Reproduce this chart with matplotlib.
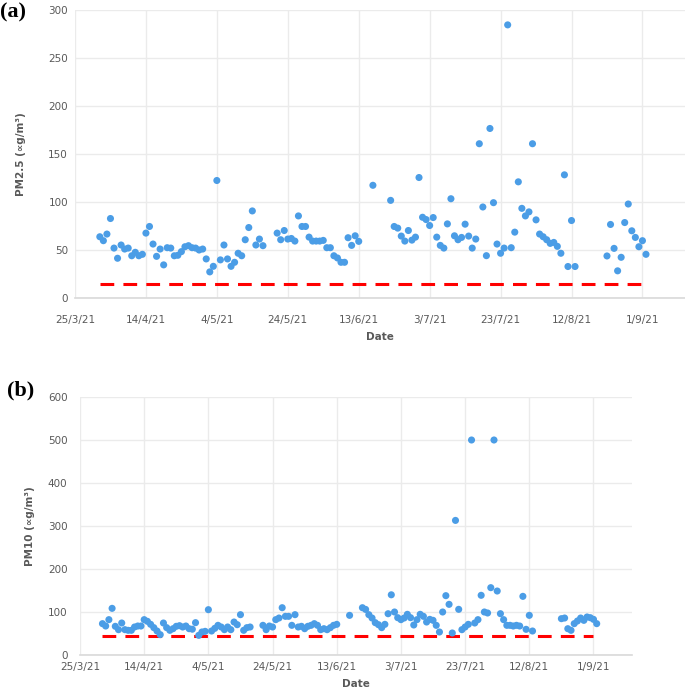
#!/usr/bin/env python3
# -*- coding: utf-8 -*-

import numpy as np
import pandas as pd
import matplotlib
matplotlib.use("Agg")
import matplotlib.pyplot as plt
from matplotlib.ticker import FixedLocator, FuncFormatter, MultipleLocator


# ----------------------------
# Datos (días contados desde 25/3/21)
# ----------------------------

START_DATE = pd.Timestamp("2021-03-25")

pm25_days = [7, 8, 9, 10, 11, 12, 13, 14, 15, 16, 17, 18, 19, 20, 21, 22, 23, 24,
             25, 26, 27, 28, 29, 30, 31, 32, 33, 34, 35, 36, 37, 38, 39, 40, 41,
             42, 43, 44, 45, 46, 47, 48, 49, 50, 51, 52, 53,
             57, 58, 59, 60, 61, 62, 63, 64, 65, 66, 67, 68, 69, 70, 71, 72, 73,
             74, 75, 76, 77, 78, 79, 80,
             84,
             89, 90, 91, 92, 93, 94, 95, 96, 97, 98, 99, 100, 101, 102, 103, 104,
             105, 106, 107, 108, 109, 110, 111, 112, 113, 114, 115, 116, 117, 118,
             119, 120, 121, 122, 123, 124, 125, 126, 127, 128, 129, 130, 131, 132,
             133, 134, 135, 136, 137, 138, 139, 140, 141,
             150, 151, 152, 153, 154, 155, 156, 157, 158, 159, 160, 161]
pm25_values = [63.8, 59.7, 66.6, 82.8, 52, 41.4, 55.2, 51, 52, 44, 47.6, 44, 45.5,
               67.6, 74.5, 56.2, 43.4, 51, 34.5, 52.4, 52, 44, 44.5, 48.3, 53.4,
               54.5, 52.4, 52, 50, 51, 40.7, 27.2, 33, 122.4, 39.7, 55.2, 40.7, 33,
               37.2, 46.6, 44, 60.7, 73.4, 90.7, 55.2, 61.4, 54.5,
               67.6, 60.7, 70.3, 61.4, 62, 59.3, 85.5, 74.5, 74.5, 63.4, 59.3, 59.3,
               59.3, 60, 52.4, 52.4, 44, 41.7, 37.2, 37.2, 62.8, 54.8, 64.8, 59,
               117.4,
               101.7, 74.5, 72.8, 64.5, 59.3, 70.3, 60.3, 63.4, 125.5, 84.1, 81.7,
               75.5, 83.8, 63.4, 54.8, 52, 77.2, 103.4, 64.8, 60.7, 63.1, 76.9, 64.5,
               52, 61.4, 160.7, 94.8, 44.1, 176.6, 99.3, 56.2, 46.6, 52, 284.5, 52.4,
               68.6, 121, 93.4, 85.5, 89.7, 160.7, 81.4, 66.6, 63.8, 60.7, 56.9,
               57.9, 53.8, 46.6, 128.3, 32.8, 80.7, 32.8,
               43.8, 76.6, 51.7, 28.3, 42.4, 78.6, 97.9, 70, 63.1, 53.4, 59.7, 45.5]

pm10_days = [7, 8, 9, 10, 11, 12, 13, 14, 15, 16, 17, 18, 19, 20, 21, 22, 23, 24,
             25, 26, 27, 28, 29, 30, 31, 32, 33, 34, 35, 36, 37, 38, 39, 40, 41,
             42, 43, 44, 45, 46, 47, 48, 49, 50, 51, 52, 53,
             57, 58, 59, 60, 61, 62, 63, 64, 65, 66, 67, 68, 69, 70, 71, 72, 73,
             74, 75, 76, 77, 78, 79, 80,
             84, 88,
             89, 90, 91, 92, 93, 94, 95, 96, 97, 98, 99, 100, 101, 102, 103, 104,
             105, 106, 107, 108, 109, 110, 111, 112, 113, 114, 115, 116, 117, 118,
             119, 120, 121, 122, 123, 124, 125, 126, 127, 128, 129, 130, 131, 132,
             133, 134, 135, 136, 137, 138, 139, 140, 141,
             150, 151, 152, 153, 154, 155, 156, 157, 158, 159, 160, 161]
pm10_values = [72.9, 67.4, 82.2, 108.5, 66.7, 58.9, 74.4, 58.9, 57.4, 57.4, 65.1,
               67.4, 67.4, 82.2, 78.3, 71.3, 63.6, 55.8, 47.3, 74.4, 63.6, 57.4,
               61.2, 66.7, 68.2, 65.1, 67.4, 61.2, 60, 75.2, 45.7, 53.5, 55, 105.4,
               55.8, 62, 69, 65.1, 58.9, 65.1, 58.9, 76.7, 70.5, 93.8, 57.4, 63.6,
               65.1,
               69, 58.9, 67.4, 65.1, 82.2, 86, 110, 89.9, 89.9, 69, 93.8, 65.1,
               66.7, 61.2, 66.7, 69, 72.9, 69, 58.9, 61.2, 58.9, 63.6, 69, 71.3,
               92.2, 110,
               106, 93.8, 86, 75.2, 70.5, 63.6, 71.3, 96, 140, 100, 86.8, 82.2, 86,
               94.6, 86.8, 69.8, 82.2, 94.6, 89.9, 76.7, 82.9, 80.6, 69, 53.5, 100,
               138, 117.8, 51.2, 313, 106.2, 58.9, 65.1, 71.3, 500, 74.4, 82.2,
               138.8, 100, 97.7, 156.6, 500, 148.8, 96.1, 82.2, 69, 69, 67.4, 69,
               67.4, 136.4, 59.7, 92.2, 55.8,
               84.5, 86, 61.2, 57.4, 72.9, 79.1, 86, 80.6, 88.4, 86.8, 82.9, 72.9]

# Valores guía (línea roja discontinua)
pm25_guideline = 15
pm10_guideline = 45
guideline_days = [7, 160]

# Eje X: marcas cada 20 días desde 25/3/21
xtick_days = [0, 20, 40, 60, 80, 100, 120, 140, 160]
x_span_days = 172

POINT_COLOR = "#4B9DE6"
GRID_COLOR = "#EBEBEB"
TEXT_COLOR = "#595959"


def to_dates(days):
    return START_DATE + pd.to_timedelta(np.asarray(days), unit="D")


def date_label(x, pos=None):
    d = matplotlib.dates.num2date(x)
    return f"{d.day}/{d.month}/{d.strftime('%y')}"


def style_axis(ax, ymax, ystep, ylabel, xpad, ypad, ylabelpad):
    ax.set_xlim(to_dates([0])[0], to_dates([x_span_days])[0])
    ax.set_ylim(0, ymax)
    ax.xaxis.set_major_locator(FixedLocator(matplotlib.dates.date2num(to_dates(xtick_days))))
    ax.xaxis.set_major_formatter(FuncFormatter(date_label))
    ax.yaxis.set_major_locator(MultipleLocator(ystep))
    ax.grid(True, color=GRID_COLOR, linewidth=1.0)
    ax.set_axisbelow(True)
    for side in ("top", "right", "left"):
        ax.spines[side].set_visible(False)
    ax.spines["bottom"].set_color("#D9D9D9")
    ax.spines["bottom"].set_linewidth(1.2)
    ax.tick_params(axis="both", length=0, labelsize=7.5, colors=TEXT_COLOR)
    ax.tick_params(axis="x", pad=xpad)
    ax.tick_params(axis="y", pad=ypad)
    ax.set_xlabel("Date", fontsize=7.5, fontweight="bold", color=TEXT_COLOR, labelpad=5)
    ax.set_ylabel(ylabel, fontsize=7.5, fontweight="bold", color=TEXT_COLOR,
                  labelpad=ylabelpad)


def draw_panel(ax, days, values, guideline):
    ax.scatter(to_dates(days), values, s=26, color=POINT_COLOR, edgecolors="none", zorder=3)
    gd = to_dates(guideline_days)
    ax.plot(gd, [guideline, guideline], color="#FF0000", linewidth=2.2,
            linestyle=(0, (4.5, 3.0)), zorder=2)


def main():
    fig = plt.figure(figsize=(6.85, 6.94), dpi=100)

    ax_a = fig.add_axes([75 / 685, (694 - 298) / 694, 610 / 685, 288 / 694])
    ax_b = fig.add_axes([80 / 685, (694 - 655) / 694, 552 / 685, 258 / 694])

    draw_panel(ax_a, pm25_days, pm25_values, pm25_guideline)
    style_axis(ax_a, 300, 50, "PM2.5 (\u221dg/m\u00b3)", xpad=12, ypad=5, ylabelpad=16)

    draw_panel(ax_b, pm10_days, pm10_values, pm10_guideline)
    style_axis(ax_b, 600, 100, "PM10 (\u221dg/m\u00b3)", xpad=5, ypad=9, ylabelpad=9)

    fig.text(0 / 685, 1 - 12 / 694, "(a)", fontsize=16, fontweight="bold",
             family="Liberation Serif", va="center", ha="left")
    fig.text(7 / 685, 1 - 390 / 694, "(b)", fontsize=16, fontweight="bold",
             family="Liberation Serif", va="center", ha="left")

    fig.savefig("out.png", dpi=100)


if __name__ == "__main__":
    main()
